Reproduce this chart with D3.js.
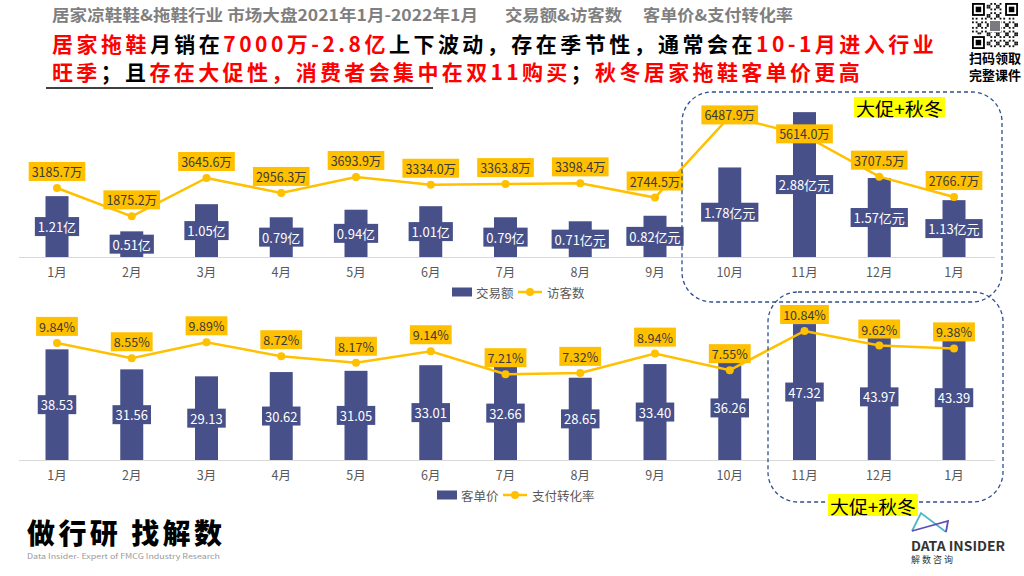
<!DOCTYPE html>
<html><head><meta charset="utf-8">
<script src="https://cdn.jsdelivr.net/npm/d3@7/dist/d3.min.js"></script>
<style>
body{margin:0;background:#fff;}
svg{display:block;font-family:"Noto Sans CJK SC","Noto Sans",sans-serif;}
</style></head><body>
<svg id="c" width="1024" height="576"></svg>
<script>
// ---- data ----
const months = ["1月","2月","3月","4月","5月","6月","7月","8月","9月","10月","11月","12月","1月"];
const gmv = [1.21,0.51,1.05,0.79,0.94,1.01,0.79,0.71,0.82,1.78,2.88,1.57,1.13];           // 亿
const gmvUnit = ["亿","亿","亿","亿","亿","亿","亿","亿元","亿元","亿元","亿元","亿元","亿元"];
const visitors = [3185.7,1875.2,3645.6,2956.3,3693.9,3334.0,3363.8,3398.4,2744.5,6487.9,5614.0,3707.5,2766.7]; // 万
const price = [38.53,31.56,29.13,30.62,31.05,33.01,32.66,28.65,33.40,36.26,47.32,43.97,43.39];
const conv = [9.84,8.55,9.89,8.72,8.17,9.14,7.21,7.32,8.94,7.55,10.84,9.62,9.38];           // %
const seriesTop = ["交易额","访客数"];
const seriesBot = ["客单价","支付转化率"];
const promoLabel = "大促+秋冬";

const BAR = "#48508A", YEL = "#FFC000", GRAY = "#595959";
const svg = d3.select("#c");
const idx = d3.range(months.length);
const x = d3.scalePoint().domain(idx).range([57, 954]);
const bw = 23;

// ---- title ----
svg.append("text").attr("x",52).attr("y",21).attr("font-size",16).attr("font-weight","bold").attr("fill","#7F7F7F")
  .text("居家凉鞋鞋&拖鞋行业  市场大盘2021年1月-2022年1月").attr("textLength",426).attr("lengthAdjust","spacingAndGlyphs");
svg.append("text").attr("x",505).attr("y",21).attr("font-size",16).attr("font-weight","bold").attr("fill","#7F7F7F")
  .text("交易额&访客数").attr("textLength",117).attr("lengthAdjust","spacingAndGlyphs");
svg.append("text").attr("x",643).attr("y",21).attr("font-size",16).attr("font-weight","bold").attr("fill","#7F7F7F")
  .text("客单价&支付转化率").attr("textLength",150).attr("lengthAdjust","spacingAndGlyphs");

function richLine(y, parts, target){
  const t = svg.append("text").attr("x",52).attr("y",y).attr("font-size",21).attr("font-weight","bold");
  parts.forEach(p=>t.append("tspan").attr("fill",p[1]).text(p[0]));
  const n = parts.map(p=>p[0]).join("").length;
  const w = t.node().getComputedTextLength();
  t.attr("letter-spacing", ((target - w)/n).toFixed(2));
}
const R="#FF0000", K="#000";
richLine(52, [["居家拖鞋",R],["月销在",K],["7000万-2.8亿",R],["上下波动，存在季节性，通常会在",K],["10-1月进入行业",R]], 885);
richLine(80, [["旺季",R],["；且",K],["存在大促性，消费者会集中在双11购买",R],["；",K],["秋冬居家拖鞋客单价更高",R]], 811);
svg.append("line").attr("x1",46).attr("x2",433).attr("y1",88).attr("y2",88).attr("stroke","#000").attr("stroke-width",1.5);

// ---- QR ----
(function(){
  const g = svg.append("g").attr("transform","translate(972,3)");
  const N=25, c=46/N;
  function finder(r,cc){
    g.append("rect").attr("x",cc*c).attr("y",r*c).attr("width",7*c).attr("height",7*c).attr("fill","#000");
    g.append("rect").attr("x",(cc+1)*c).attr("y",(r+1)*c).attr("width",5*c).attr("height",5*c).attr("fill","#fff");
    g.append("rect").attr("x",(cc+2)*c).attr("y",(r+2)*c).attr("width",3*c).attr("height",3*c).attr("fill","#000");
  }
  for(let i=0;i<N;i++)for(let j=0;j<N;j++){
    const inF=(i<8&&j<8)||(i<8&&j>=N-8)||(i>=N-8&&j<8);
    if(inF) continue;
    if(((i*7+j*13+i*j*3)%5)<2) g.append("rect").attr("x",j*c).attr("y",i*c).attr("width",c).attr("height",c).attr("fill","#111");
  }
  finder(0,0);finder(0,N-7);finder(N-7,0);
  g.append("rect").attr("x",9.5*c).attr("y",9.5*c).attr("width",6*c).attr("height",6*c).attr("fill","#7a7a80").attr("stroke","#fff");
  svg.append("text").attr("x",995).attr("y",63).attr("text-anchor","middle").attr("font-size",13).attr("font-weight","bold").text("扫码领取");
  svg.append("text").attr("x",995).attr("y",80).attr("text-anchor","middle").attr("font-size",13).attr("font-weight","bold").text("完整课件");
})();

// ---- generic helpers ----
function labelBox(g, cx, cy, txt, fill, color, fs){
  const t = g.append("text").attr("x",cx).attr("y",cy).attr("text-anchor","middle").attr("dominant-baseline","central")
    .attr("font-size",fs).attr("fill",color).text(txt);
  const w = t.node().getComputedTextLength();
  g.insert("rect", function(){return t.node();}).attr("x",cx-w/2-3).attr("y",cy-9.5).attr("width",w+6).attr("height",19).attr("fill",fill);
}

function chart(base, barVals, barScale, barLabel, lineVals, lineScale, lineLabel, legendX, names, centerIdx){
  const g = svg.append("g");
  g.append("line").attr("x1",19).attr("x2",995).attr("y1",base+0.5).attr("y2",base+0.5).attr("stroke","#D9D9D9").attr("stroke-width",1.2);
  g.selectAll(".bar").data(idx).join("rect").attr("x",i=>x(i)-bw/2).attr("width",bw)
    .attr("y",i=>barScale(barVals[i])).attr("height",i=>base-barScale(barVals[i])).attr("fill",BAR);
  g.selectAll(".m").data(idx).join("text").attr("x",i=>x(i)).attr("y",base+20).attr("text-anchor","middle")
    .attr("font-size",12.5).attr("fill",GRAY).text(i=>months[i]);
  const line = d3.line().x(i=>x(i)).y(i=>lineScale(lineVals[i]));
  g.append("path").attr("d",line(idx)).attr("fill","none").attr("stroke",YEL).attr("stroke-width",2.5);
  g.selectAll(".pt").data(idx).join("circle").attr("cx",i=>x(i)).attr("cy",i=>lineScale(lineVals[i])).attr("r",4).attr("fill",YEL);
  idx.forEach(i=>{
    const cy = (barScale(barVals[i])+base)/2;
    labelBox(g, x(i), cy, barLabel(i), BAR, "#fff", 13);
  });
  idx.forEach(i=>{
    const py = lineScale(lineVals[i]);
    const cy = centerIdx.includes(i) ? py-1.5 : py-16.5;
    labelBox(g, x(i), cy, lineLabel(i), YEL, "#3a3a3a", 12.5);
  });
  // legend
  const ly = base+35;
  g.append("rect").attr("x",legendX).attr("y",ly-4.5).attr("width",20).attr("height",9).attr("fill",BAR);
  g.append("text").attr("x",legendX+24).attr("y",ly).attr("dominant-baseline","central").attr("font-size",12.5).attr("fill",GRAY).text(names[0]);
  const lx = legendX+66;
  g.append("line").attr("x1",lx).attr("x2",lx+24).attr("y1",ly).attr("y2",ly).attr("stroke",YEL).attr("stroke-width",2.5);
  g.append("circle").attr("cx",lx+12).attr("cy",ly).attr("r",4).attr("fill",YEL);
  g.append("text").attr("x",lx+29).attr("y",ly).attr("dominant-baseline","central").attr("font-size",12.5).attr("fill",GRAY).text(names[1]);
}

// top chart
const topBase = 257;
const yBarTop = d3.scaleLinear().domain([0,3]).range([topBase, topBase-150.9]);
const yLineTop = d3.scaleLinear().domain([0,10000]).range([topBase, topBase-216.7]);
chart(topBase, gmv, yBarTop, i=>gmv[i].toFixed(2)+gmvUnit[i], visitors, yLineTop, i=>visitors[i].toFixed(1)+"万", 452, seriesTop, [9,10]);

// bottom chart
const botBase = 460;
const yBarBot = d3.scaleLinear().domain([0,50]).range([botBase, botBase-143.6]);
const yLineBot = d3.scaleLinear().domain([0,12]).range([botBase, botBase-142.8]);
chart(botBase, price, yBarBot, i=>price[i].toFixed(2), conv, yLineBot, i=>conv[i].toFixed(2)+"%", 437, seriesBot, []);

// ---- promo boxes ----
const dash = {stroke:"#2F4F8F", w:1.3, d:"4 3"};
svg.append("rect").attr("x",682).attr("y",92).attr("width",320).attr("height",210).attr("rx",30)
  .attr("fill","none").attr("stroke",dash.stroke).attr("stroke-width",dash.w).attr("stroke-dasharray",dash.d);
svg.append("rect").attr("x",768).attr("y",292).attr("width",235).attr("height",210).attr("rx",30)
  .attr("fill","none").attr("stroke",dash.stroke).attr("stroke-width",dash.w).attr("stroke-dasharray",dash.d);
function promo(x0,y0,w,h){
  svg.append("rect").attr("x",x0).attr("y",y0).attr("width",w).attr("height",h).attr("fill","#FFFF00");
  svg.append("text").attr("x",x0+w/2).attr("y",y0+h/2+1).attr("text-anchor","middle").attr("dominant-baseline","central")
    .attr("font-size",18).attr("fill","#000").text(promoLabel).attr("textLength",w-4).attr("lengthAdjust","spacingAndGlyphs");
}
promo(854,97,91,20);
promo(828,494,90,22);

// ---- footer ----
svg.append("text").attr("x",27).attr("y",544).attr("font-size",28).attr("font-weight","900").attr("fill","#000")
  .text("做行研 找解数").attr("textLength",195).attr("lengthAdjust","spacing");
svg.append("text").attr("x",27).attr("y",559).attr("font-size",7).attr("fill","#999")
  .text("Data Insider- Expert of FMCG Industry Research").attr("textLength",193).attr("lengthAdjust","spacingAndGlyphs");
// logo
const lg = svg.append("g");
lg.append("path").attr("d","M912,531 L921,513 L946,532").attr("fill","none").attr("stroke","#4BB8C4").attr("stroke-width",1.8);
lg.append("path").attr("d","M912,531 L948,521 L946,532").attr("fill","none").attr("stroke","#5B4FB8").attr("stroke-width",1.8);
svg.append("text").attr("x",911).attr("y",551).attr("font-size",13).attr("font-weight","600").attr("fill","#333")
  .text("DATA INSIDER").attr("textLength",94).attr("lengthAdjust","spacingAndGlyphs");
svg.append("text").attr("x",911).attr("y",563).attr("font-size",9).attr("fill","#333")
  .text("解数咨询").attr("textLength",42).attr("lengthAdjust","spacing");
</script>
</body></html>
